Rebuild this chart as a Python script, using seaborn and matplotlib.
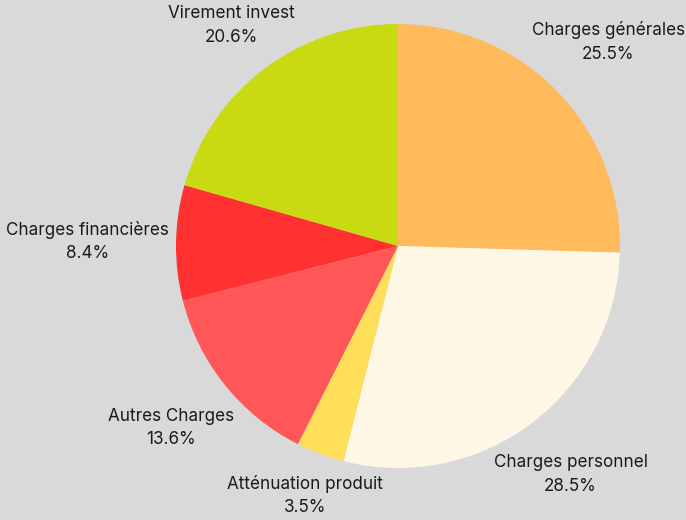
import numpy as np
import seaborn as sns
import matplotlib.pyplot as plt

# data
labels = ['Charges générales', 'Charges personnel', 'Atténuation produit',
          'Autres Charges', 'Charges financières', 'Virement invest']
values = [25.5, 28.5, 3.5, 13.6, 8.4, 20.6]
colors = ['#FFBB5B', '#FFF7E6', '#FFDE59', '#FF5757', '#FF3131', '#C9D912']
label_dist = [1.32, 1.29, 1.20, 1.31, 1.40, 1.245]

sns.set_theme(style='white')
plt.rcParams['font.family'] = ['Inter', 'DejaVu Sans']

fig = plt.figure(figsize=(6.86, 5.2), dpi=100)
fig.patch.set_facecolor('#D9D9D9')
ax = fig.add_axes([176 / 686, 52 / 520, 444 / 686, 444 / 520])
ax.set_facecolor('#D9D9D9')

wedges, _ = ax.pie(values, colors=colors, startangle=90, counterclock=False,
                   radius=1, wedgeprops=dict(linewidth=0))

for w, lab, v, d in zip(wedges, labels, values, label_dist):
    ang = np.deg2rad((w.theta1 + w.theta2) / 2)
    ax.text(d * np.cos(ang), d * np.sin(ang), f'{lab}\n{v}%',
            ha='center', va='center', fontsize=12.3, color='#1A1A1A',
            linespacing=1.5)

ax.set_xlim(-1, 1)
ax.set_ylim(-1, 1)
ax.set_aspect('equal')
ax.axis('off')

fig.savefig('out.png', dpi=100, facecolor=fig.get_facecolor())
